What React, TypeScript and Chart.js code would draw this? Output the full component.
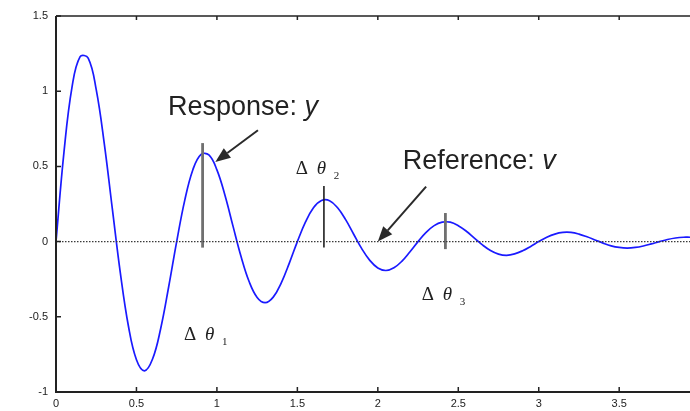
import React, { useEffect, useRef } from "react";
import { Chart, registerables } from "chart.js";

Chart.register(...registerables);

// Response curve y(t) (t in steps of 0.05)
const T_VALUES = [
  0, 0.05, 0.1, 0.15, 0.2, 0.25, 0.3, 0.35, 0.4, 0.45, 0.5, 0.55, 0.6, 0.65, 0.7,
  0.75, 0.8, 0.85, 0.9, 0.95, 1.0, 1.05, 1.1, 1.15, 1.2, 1.25, 1.3, 1.35, 1.4, 1.45,
  1.5, 1.55, 1.6, 1.65, 1.7, 1.75, 1.8, 1.85, 1.9, 1.95, 2.0, 2.05, 2.1, 2.15, 2.2,
  2.25, 2.3, 2.35, 2.4, 2.45, 2.5, 2.55, 2.6, 2.65, 2.7, 2.75, 2.8, 2.85, 2.9, 2.95,
  3.0, 3.05, 3.1, 3.15, 3.2, 3.25, 3.3, 3.35, 3.4, 3.45, 3.5, 3.55, 3.6, 3.65, 3.7,
  3.75, 3.8, 3.85, 3.9, 3.94,
];
const Y_VALUES = [
  0, 0.6, 1.03, 1.23, 1.22, 1.01, 0.652, 0.219, -0.209, -0.561, -0.786, -0.859, -0.781, -0.581, -0.302,
  0, 0.274, 0.476, 0.579, 0.576, 0.477, 0.308, 0.103, -0.099, -0.265, -0.371, -0.406, -0.369, -0.274, -0.143,
  0, 0.129, 0.225, 0.273, 0.272, 0.225, 0.146, 0.049, -0.047, -0.125, -0.175, -0.192, -0.174, -0.13, -0.067,
  0, 0.061, 0.106, 0.129, 0.129, 0.106, 0.069, 0.023, -0.022, -0.059, -0.083, -0.091, -0.082, -0.061, -0.032,
  0, 0.029, 0.05, 0.061, 0.061, 0.05, 0.032, 0.011, -0.01, -0.028, -0.039, -0.043, -0.039, -0.029, -0.015,
  0, 0.014, 0.024, 0.029, 0.029,
];

// Reference v (y = 0)
const REF_T = [0, 3.94];
const REF_V = [0, 0];

// Vertical markers (t, top, bottom)
const MARK_T = [0.911, 1.665, 2.42];
const MARK_TOP = [0.655, 0.37, 0.19];
const MARK_BOTTOM = [-0.04, -0.04, -0.05];

const X_TICKS = [0, 0.5, 1, 1.5, 2, 2.5, 3, 3.5];
const Y_TICKS = [-1, -0.5, 0, 0.5, 1, 1.5];

const annotPlugin = {
  id: "annot",
  afterDatasetsDraw(chart: any) {
    const { ctx, chartArea } = chart;
    const xs = chart.scales.x;
    const ys = chart.scales.y;
    const px = (v: number) => xs.getPixelForValue(v);
    const py = (v: number) => ys.getPixelForValue(v);
    ctx.save();
    // frame
    ctx.strokeStyle = "#222";
    ctx.lineWidth = 2;
    ctx.beginPath();
    ctx.moveTo(chartArea.left, chartArea.top);
    ctx.lineTo(chartArea.left, chartArea.bottom);
    ctx.lineTo(chartArea.right, chartArea.bottom);
    ctx.stroke();
    ctx.lineWidth = 1.5;
    ctx.beginPath();
    ctx.moveTo(chartArea.left, chartArea.top);
    ctx.lineTo(chartArea.right, chartArea.top);
    ctx.stroke();
    // inward ticks
    ctx.lineWidth = 1.5;
    ctx.beginPath();
    X_TICKS.forEach((t) => {
      const x = px(t);
      ctx.moveTo(x, chartArea.bottom);
      ctx.lineTo(x, chartArea.bottom - 5);
      ctx.moveTo(x, chartArea.top);
      ctx.lineTo(x, chartArea.top + 4);
    });
    Y_TICKS.forEach((v) => {
      const y = py(v);
      ctx.moveTo(chartArea.left, y);
      ctx.lineTo(chartArea.left + 5, y);
    });
    ctx.stroke();

    // arrows
    const arrow = (t0: number, v0: number, t1: number, v1: number) => {
      const x0 = px(t0), y0 = py(v0), x1 = px(t1), y1 = py(v1);
      const ang = Math.atan2(y1 - y0, x1 - x0);
      const hl = 15, hw = 6;
      const bx = x1 - hl * Math.cos(ang), by = y1 - hl * Math.sin(ang);
      ctx.strokeStyle = "#2a2a2a";
      ctx.fillStyle = "#2a2a2a";
      ctx.lineWidth = 2;
      ctx.beginPath();
      ctx.moveTo(x0, y0);
      ctx.lineTo(bx, by);
      ctx.stroke();
      ctx.beginPath();
      ctx.moveTo(x1, y1);
      ctx.lineTo(bx + hw * Math.sin(ang), by - hw * Math.cos(ang));
      ctx.lineTo(bx - hw * Math.sin(ang), by + hw * Math.cos(ang));
      ctx.closePath();
      ctx.fill();
    };
    arrow(1.255, 0.74, 0.99, 0.53);
    arrow(2.3, 0.365, 2.0, 0.0);

    // labels
    ctx.fillStyle = "#222";
    ctx.textBaseline = "alphabetic";
    ctx.textAlign = "left";
    const twoPart = (t: number, v: number, a: string, b: string) => {
      const x = px(t), y = py(v);
      ctx.font = "27px 'Liberation Sans', Arial, sans-serif";
      ctx.fillText(a, x, y);
      const w = ctx.measureText(a).width;
      ctx.font = "italic 27px 'Liberation Sans', Arial, sans-serif";
      ctx.fillText(b, x + w, y);
    };
    twoPart(0.696, 0.842, "Response: ", "y");
    twoPart(2.155, 0.483, "Reference: ", "v");

    const dtheta = (t: number, v: number, sub: string) => {
      const x = px(t), y = py(v);
      ctx.font = "19px 'Liberation Serif', 'DejaVu Serif', serif";
      ctx.fillText("\u0394", x, y);
      ctx.font = "italic 19px 'Liberation Serif', 'DejaVu Serif', serif";
      ctx.fillText("\u03b8", x + 21, y);
      ctx.font = "11px 'Liberation Serif', 'DejaVu Serif', serif";
      ctx.fillText(sub, x + 38, y + 5);
    };
    dtheta(0.795, -0.654, "1");
    dtheta(1.49, 0.449, "2");
    dtheta(2.273, -0.39, "3");
    ctx.restore();
  },
};

export default function App() {
  const ref = useRef<HTMLCanvasElement>(null);
  useEffect(() => {
    document.body.style.margin = "0";
    const curve = T_VALUES.map((t, i) => ({ x: t, y: Y_VALUES[i] }));
    const refLine = REF_T.map((t, i) => ({ x: t, y: REF_V[i] }));
    const markers = MARK_T.map((t, i) => ({
      type: "line" as const,
      data: [
        { x: t, y: MARK_BOTTOM[i] },
        { x: t, y: MARK_TOP[i] },
      ],
      borderColor: i === 1 ? "#1e1e1e" : "#707070",
      borderWidth: i === 1 ? 1.6 : 2.8,
      pointRadius: 0,
      fill: false,
    }));
    const fmt = (v: any) => String(Number(v));
    const chart = new Chart(ref.current!, {
      type: "line",
      data: {
        datasets: [
          {
            data: refLine,
            borderColor: "#3a3a3a",
            borderWidth: 1.4,
            borderDash: [1.5, 1.5],
            pointRadius: 0,
            fill: false,
          },
          ...markers,
          {
            data: curve,
            borderColor: "#1a1aff",
            borderWidth: 1.7,
            pointRadius: 0,
            tension: 0.4,
            fill: false,
          },
        ],
      },
      options: {
        animation: false,
        responsive: false,
        maintainAspectRatio: false,
        events: [],
        layout: { padding: { top: 16, right: 0, left: 0, bottom: 0 } },
        plugins: { legend: { display: false }, tooltip: { enabled: false } },
        scales: {
          x: {
            type: "linear",
            min: 0,
            max: 3.94,
            afterFit: (s: any) => {
              s.height = 19;
            },
            afterBuildTicks: (s: any) => {
              s.ticks = X_TICKS.map((v) => ({ value: v }));
            },
            ticks: {
              font: { size: 11, family: "'Liberation Sans', Arial, sans-serif" },
              color: "#222",
              padding: 5,
              maxRotation: 0,
              autoSkip: false,
              callback: fmt,
            },
            grid: { display: false, drawTicks: false },
            border: { display: false },
          },
          y: {
            type: "linear",
            min: -1,
            max: 1.5,
            afterFit: (s: any) => {
              s.width = 56;
            },
            afterBuildTicks: (s: any) => {
              s.ticks = Y_TICKS.map((v) => ({ value: v }));
            },
            ticks: {
              font: { size: 11, family: "'Liberation Sans', Arial, sans-serif" },
              color: "#222",
              padding: 8,
              autoSkip: false,
              callback: fmt,
            },
            grid: { display: false, drawTicks: false },
            border: { display: false },
          },
        },
      },
      plugins: [annotPlugin],
    } as any);
    return () => chart.destroy();
  }, []);
  return (
    <div style={{ position: "absolute", left: 0, top: 0, width: 690, height: 411, background: "#fff" }}>
      <canvas ref={ref} width={690} height={411} style={{ display: "block", width: 690, height: 411 }} />
    </div>
  );
}
